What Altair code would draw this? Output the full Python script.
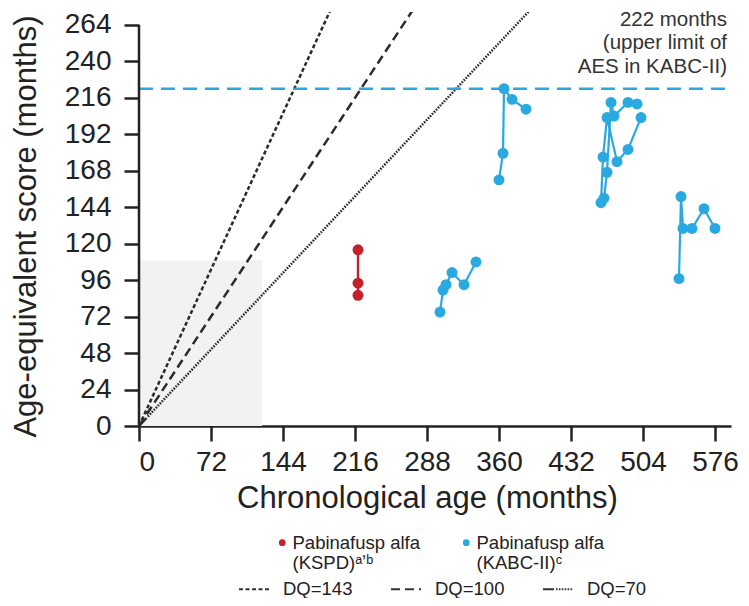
import altair as alt
import pandas as pd

FONT = "Liberation Sans"
RED = "#c4222a"
BLUE = "#29a9e0"
INK = "#222222"

# ---------------- data ----------------
x_ticks = [0, 72, 144, 216, 288, 360, 432, 504, 576]
y_ticks = [0, 24, 48, 72, 96, 120, 144, 168, 192, 216, 240, 264]

series_names = ["Pabinafusp alfa\n(KSPD)\u1d43\u02bc\u1d47", "Pabinafusp alfa\n(KABC-II)\u1d9c"]

kspd_patient = ["K1", "K1", "K1"]
kspd_age = [219, 219, 219]
kspd_aes = [116, 94, 86]

kabc_patient = ["P1"] * 6 + ["P2"] * 5 + ["P3"] * 6 + ["P4"] * 6 + ["P5"] * 6
kabc_age = [301, 304, 307, 313, 325, 337,
            360, 364, 365, 373, 387,
            462, 464, 468, 478, 489, 502,
            465, 468, 472, 475, 489, 498,
            540, 542, 544, 553, 565, 576]
kabc_aes = [75, 89.5, 93, 101, 93, 108,
            162, 179.5, 222, 215, 208.5,
            147, 177, 203, 174, 182, 203,
            150, 167, 213, 204, 213, 212,
            97, 151, 130, 130, 143, 130]

dq_labels = ["DQ=143", "DQ=100", "DQ=70"]
dq_values = [143, 100, 70]
aes_upper_limit = 222
shaded_age = [0, 123]
shaded_aes = [0, 109]
annot_lines = ["222 months", "(upper limit of", "AES in KABC-II)"]

# ---------------- frames ----------------
kspd_df = pd.DataFrame({"series": series_names[0], "patient": kspd_patient,
                        "x": kspd_age, "y": kspd_aes, "seq": range(len(kspd_age))})
kabc_df = pd.DataFrame({"series": series_names[1], "patient": kabc_patient,
                        "x": kabc_age, "y": kabc_aes, "seq": range(len(kabc_age))})
pts = pd.concat([kspd_df, kabc_df], ignore_index=True)

dq_rows = []
for lab, v in zip(dq_labels, dq_values):
    dq_rows.append({"dq": lab, "x": 0, "y": 0})
    dq_rows.append({"dq": lab, "x": 400, "y": v / 100 * 400})
dq_df = pd.DataFrame(dq_rows)

xscale = alt.Scale(domain=[0, 592], nice=False, zero=False)
yscale = alt.Scale(domain=[0, 272.5], nice=False, zero=False)
xaxis = alt.Axis(values=x_ticks, title="Chronological age (months)", labelPadding=7,
                 titleX=288, titleY=57, titleBaseline="top")
yaxis = alt.Axis(values=y_ticks, title="Age-equivalent score (months)", domain=False,
                 labelPadding=13, titleX=-97, titleY=214)


def X(f):
    return alt.X(f, type="quantitative", scale=xscale, axis=xaxis)


def Y(f):
    return alt.Y(f, type="quantitative", scale=yscale, axis=yaxis)


shade = alt.Chart(pd.DataFrame({"x": [shaded_age[0]], "x2": [shaded_age[1]],
                                "y": [shaded_aes[0]], "y2": [shaded_aes[1]]})).mark_rect(
    color="#f2f2f2").encode(x=X("x"), x2="x2", y=Y("y"), y2="y2")

dash70 = [11, 2] + [1.6, 1.3] * 200
dq_lines = alt.Chart(dq_df).mark_line(color="#2b2b2b", strokeWidth=2.5, clip=True).encode(
    x=X("x"), y=Y("y"),
    strokeDash=alt.StrokeDash(
        "dq:N",
        scale=alt.Scale(domain=dq_labels, range=[[4, 2.5], [9, 5], dash70]),
        legend=alt.Legend(orient="none", legendX=99, legendY=561, direction="horizontal",
                          title=None, symbolType="stroke", symbolSize=900,
                          symbolStrokeWidth=2, symbolStrokeColor="#333333",
                          labelFont=FONT, labelFontSize=18.5, labelColor=INK,
                          labelOffset=13, columnPadding=34, padding=0, labelLimit=0)),
)

limit_rule = alt.Chart(pd.DataFrame({"y": [aes_upper_limit], "x": [0], "x2": [592]})).mark_rule(
    color=BLUE, strokeWidth=2.5, strokeDash=[14, 8]).encode(x=X("x"), x2="x2", y=Y("y"))

yline = alt.Chart(pd.DataFrame({"x": [0], "y": [0], "y2": [264]})).mark_rule(
    color=INK, strokeWidth=2.5).encode(x=X("x"), y=Y("y"), y2="y2")

cscale = alt.Scale(domain=series_names, range=[RED, BLUE])

lines_kspd = alt.Chart(kspd_df).mark_line(strokeWidth=2.4, color=RED).encode(
    x=X("x"), y=Y("y"), detail="patient:N", order="seq:Q")
lines_kabc = alt.Chart(kabc_df).mark_line(strokeWidth=2.2, color=BLUE).encode(
    x=X("x"), y=Y("y"), detail="patient:N", order="seq:Q")

points = alt.Chart(pts).mark_circle(size=120, opacity=1).encode(
    x=X("x"), y=Y("y"),
    color=alt.Color("series:N", scale=cscale,
                    legend=alt.Legend(orient="none", legendX=134, legendY=521,
                                      direction="horizontal", title=None,
                                      symbolType="circle", symbolSize=45,
                                      symbolStrokeWidth=0, labelFont=FONT,
                                      labelFontSize=18.5, labelColor=INK,
                                      labelExpr="split(datum.label, '\\n')",
                                      labelBaseline="middle", labelOffset=1,
                                      columnPadding=36, padding=0, labelLimit=0)))

annot = alt.Chart(pd.DataFrame({"x": [588], "y": [267.3]})).mark_text(
    text=annot_lines, align="right", baseline="middle", lineHeight=23.5,
    fontSize=20.5, font=FONT, color="#333333").encode(x=X("x"), y=Y("y"))

chart = alt.layer(shade, dq_lines, limit_rule, yline, lines_kspd, lines_kabc, points, annot).properties(
    width=592, height=414,
    padding={"left": 131, "top": 4, "right": 10, "bottom": 172},
    autosize=alt.AutoSizeParams(type="none"),
).configure_axis(
    labelFont=FONT, titleFont=FONT, labelFontSize=28, titleFontSize=31,
    labelColor=INK, titleColor=INK, tickColor=INK, domainColor=INK,
    tickWidth=2.5, domainWidth=2.5, tickSize=15, grid=False, titleFontWeight="normal",
).configure_view(stroke=None)

chart.save("out.html", embed_options={"renderer": "svg", "actions": False})
